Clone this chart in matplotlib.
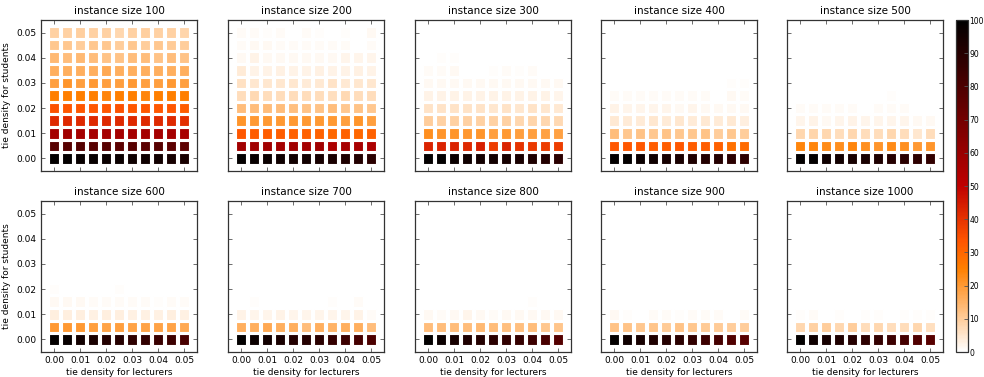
import numpy as np
import matplotlib
matplotlib.use('Agg')
import matplotlib.pyplot as plt
from matplotlib.colors import Normalize

# tie densities used on both axes
densities = [0.000, 0.005, 0.010, 0.015, 0.020, 0.025, 0.030, 0.035, 0.040, 0.045, 0.050]

sizes = [100, 200, 300, 400, 500, 600, 700, 800, 900, 1000]

# percentage per cell; each row is one student tie density, starting at 0.00
# (rows that are all zero are left out)
result_100 = [
    [99, 99, 98, 98, 97, 97, 96, 96, 95, 94, 93],
    [77, 77, 78, 77, 77, 76, 77, 76, 77, 76, 75],
    [57, 58, 57, 57, 57, 57, 57, 57, 57, 57, 56],
    [42, 42, 42, 42, 42, 42, 42, 42, 42, 42, 41],
    [34, 33, 33, 33, 33, 34, 33, 33, 33, 33, 32],
    [25, 25, 25, 25, 24, 25, 25, 24, 25, 25, 25],
    [19, 21, 19, 20, 19, 19, 20, 19, 19, 20, 19],
    [16, 16, 16, 16, 17, 16, 16, 16, 16, 16, 16],
    [14, 13, 14, 13, 12, 12, 13, 13, 12, 13, 12],
    [11, 11, 10, 11, 11, 10, 11, 10, 11, 10.5, 10],
    [9, 9, 9.5, 9, 9, 8, 9, 9.5, 9, 9, 8.5],
]
result_200 = [
    [99, 98, 97, 96, 95, 95, 94, 93, 92, 91, 89],
    [58, 58, 58, 57, 58, 57, 58, 55, 56, 56, 55],
    [33, 32, 32, 32, 31, 31, 31, 30, 31, 30, 31],
    [21, 20, 20, 20, 20, 20, 20, 20, 19, 21, 19],
    [13, 13, 13, 13, 12.5, 12, 12, 13, 11, 12, 11],
    [7, 7.5, 7, 7, 7, 7, 7, 6.5, 7.5, 7, 7],
    [6, 5, 5, 5, 5, 4, 4.5, 5.5, 4.5, 5, 5],
    [4, 2.5, 2.5, 3, 2.5, 2.5, 3, 2.5, 2.5, 3, 2.5],
    [1.5, 2.5, 1.5, 1.5, 1.5, 1.5, 1.5, 1.5, 2, 2, 2],
    [1, 1.5, 1.5, 1, 1, 1, 1, 1, 1, 0, 1],
    [1, 1, 0.5, 1, 0, 1, 0.5, 0, 0.5, 0, 1.5],
]
result_300 = [
    [99, 99, 97, 96, 95, 95, 94, 93, 92, 91, 89],
    [43, 43, 43, 42, 44, 38, 43, 40, 39, 38, 38],
    [22, 21, 21, 20.5, 21, 19, 20, 19, 19, 18.5, 18.5],
    [10, 9, 9, 9, 9, 9, 9, 8, 8.5, 8, 7.5],
    [5.5, 5.5, 5.5, 5.5, 5.5, 5, 5.5, 5, 5.5, 5, 4.5],
    [2.5, 2.5, 2.5, 2.5, 2.5, 2.5, 2.5, 2.5, 2.5, 2.5, 2],
    [1.5, 1.5, 1.5, 1.2, 1.2, 1.5, 1.5, 1.2, 1.2, 1.5, 1.2],
    [1, 1, 1.2, 0, 0, 0.7, 0.8, 0.7, 0.8, 0, 0],
    [0, 0.7, 0.7, 0, 0, 0, 0, 0, 0, 0, 0],
]
result_400 = [
    [99, 99, 97, 96, 94, 93, 92, 91, 90, 89, 88],
    [33, 33, 33, 32, 32, 33, 32, 32, 31, 28, 29],
    [13, 11, 12, 11, 12, 11, 11, 12, 10, 11, 10],
    [4.5, 4, 4, 5, 4, 5, 4, 4.5, 4, 4.5, 3.5],
    [2.5, 2, 2, 2, 2, 1.5, 2, 1.5, 1.5, 1.5, 1.5],
    [1, 1, 1, 1, 0.8, 0.8, 0.8, 1, 0, 1.2, 1],
    [0, 0, 0, 0, 0, 0, 0, 0, 0, 0.7, 0.7],
]
result_500 = [
    [99, 99, 96, 95, 94, 93, 92, 90, 89, 88, 87],
    [24, 24, 23, 22, 24, 22, 21, 23, 22, 20, 21],
    [8, 8.5, 8, 7, 8, 7, 7, 8, 7, 5, 7],
    [2, 2.5, 1.5, 2, 2.5, 2, 2, 2, 2, 1.5, 1.5],
    [1, 1, 1, 1, 1, 0, 1, 1, 1, 0, 0],
    [0, 0, 0, 0, 0, 0, 0, 0.7, 0, 0, 0],
]
result_600 = [
    [99, 98, 95, 93, 91, 90, 88, 87, 85, 84, 81],
    [20, 20, 20, 19, 18, 19, 18, 18, 18, 18, 17],
    [3.5, 3.5, 3.5, 3, 3.5, 3.5, 3, 3, 3, 3.5, 3],
    [1.2, 1.2, 1.2, 1, 1, 1, 0.8, 0.8, 0.7, 1, 1],
    [0.7, 0, 0, 0, 0, 0.7, 0, 0, 0, 0, 0],
]
result_700 = [
    [99, 97, 95, 93, 91, 90, 89, 86, 84, 82, 80],
    [16, 16, 17, 16, 16, 13, 16, 15, 16, 16, 13],
    [2.5, 2, 2, 2.5, 2, 2, 2, 2, 2, 2.5, 1],
    [0, 0.6, 0, 0, 0, 0, 0, 0.6, 0, 0.8, 0],
]
result_800 = [
    [99, 97, 94, 92, 91, 89, 87, 86, 84, 81, 78],
    [13, 13, 13, 13, 14, 13, 12.5, 12.5, 13, 11, 11.5],
    [1.5, 1, 1.5, 2, 1.5, 1, 1.5, 1.5, 1.5, 1.2, 1.2],
    [0, 0, 0, 0, 0, 0, 0, 0, 0.6, 0, 0],
]
result_900 = [
    [99, 96, 94, 92, 90, 89, 87, 84, 82, 79, 77],
    [12, 12, 11, 11.5, 10.5, 12, 11, 10.5, 10.5, 10, 10],
    [1.2, 0.7, 0, 1, 0.8, 0.7, 1, 1, 0.8, 0, 0.8],
]
result_1000 = [
    [99, 96, 94, 92, 90, 88, 86, 84, 82, 79, 77],
    [8, 9, 10, 8, 10, 7, 8, 7, 7, 8, 6.5],
    [0.7, 1, 0, 0.7, 0, 0.6, 0.6, 0, 0.7, 0.7, 0.7],
]

results = [result_100, result_200, result_300, result_400, result_500,
           result_600, result_700, result_800, result_900, result_1000]

cmap = plt.get_cmap('gist_heat_r')
norm = Normalize(vmin=0, vmax=100)

W, H = 984, 377
fig = plt.figure(figsize=(W / 100, H / 100), dpi=100)

col_left = [41, 228, 415, 601, 787]
row_top = [20, 201]
ax_w, ax_h = 156, 151
tick_pos = [0.00, 0.01, 0.02, 0.03, 0.04, 0.05]
tick_txt = ['0.00', '0.01', '0.02', '0.03', '0.04', '0.05']

for k, (size, grid) in enumerate(zip(sizes, results)):
    r, c = divmod(k, 5)
    left = col_left[c] / W
    bottom = 1 - (row_top[r] + ax_h) / H
    ax = fig.add_axes([left, bottom, ax_w / W, ax_h / H])

    xs, ys, vals = [], [], []
    for j, row in enumerate(grid):
        for i, v in enumerate(row):
            if v > 0:
                xs.append(densities[i])
                ys.append(densities[j])
                vals.append(v)
    ax.scatter(xs, ys, c=vals, cmap=cmap, norm=norm, marker='s',
               s=58, edgecolors='white', linewidths=0.8)

    ax.set_xlim(-0.005, 0.055)
    ax.set_ylim(-0.005, 0.055)
    ax.set_xticks(tick_pos)
    ax.set_yticks(tick_pos)
    ax.tick_params(direction='in', top=True, right=True, length=3,
                   width=0.6, color='#555555', labelsize=6.5, pad=3)
    for sp in ax.spines.values():
        sp.set_linewidth(0.9)
        sp.set_color('#333333')
    ax.set_title(f'instance size {size}', fontsize=7.5, pad=4)

    if c == 0:
        ax.set_yticklabels(tick_txt)
        ax.set_ylabel('tie density for students', fontsize=6.5, labelpad=4)
    else:
        ax.set_yticklabels([])
    if r == 1:
        ax.set_xticklabels(tick_txt)
        ax.set_xlabel('tie density for lecturers', fontsize=6.5, labelpad=2)
    else:
        ax.set_xticklabels([])

cax = fig.add_axes([956 / W, 1 - 352 / H, 12 / W, 332 / H])
cb = fig.colorbar(plt.cm.ScalarMappable(norm=norm, cmap=cmap), cax=cax)
cb.set_ticks(range(0, 101, 10))
cb.ax.tick_params(labelsize=5.5, direction='in', length=3, width=0.6,
                  color='#555555', pad=1)
cb.outline.set_linewidth(0.9)
cb.outline.set_edgecolor('#333333')

fig.savefig('out.png', dpi=100, facecolor='white')
